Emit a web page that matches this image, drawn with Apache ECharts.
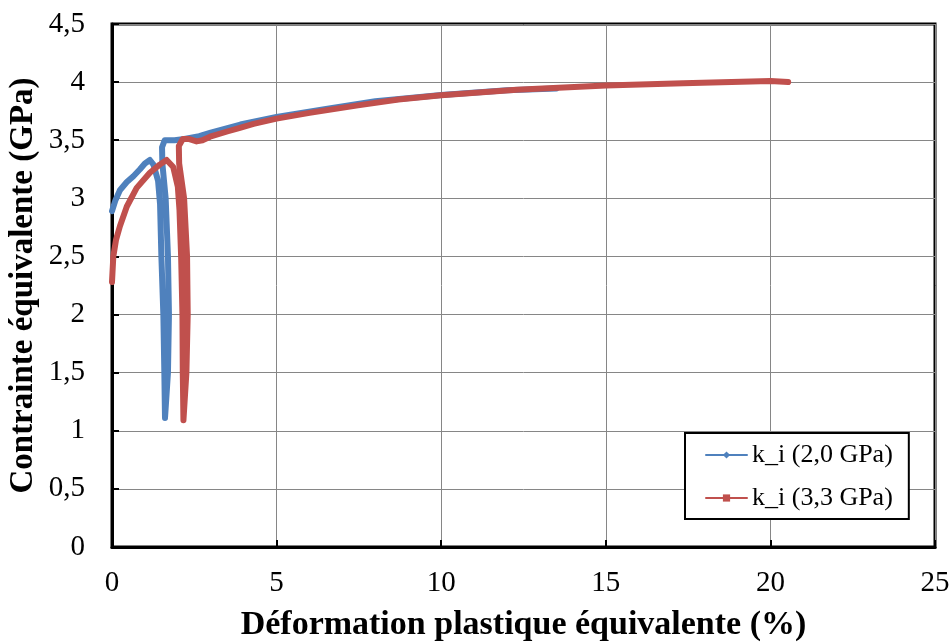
<!DOCTYPE html>
<html>
<head>
<meta charset="utf-8">
<script src="https://cdn.jsdelivr.net/npm/echarts@6/dist/echarts.min.js"></script>
<style>html,body{margin:0;padding:0;background:#fff;}#c{width:951px;height:644px;}</style>
</head>
<body>
<div id="c"></div>
<script>
const seriesNames = ['k_i (2,0 GPa)', 'k_i (3,3 GPa)'];
const xTitle = 'Déformation plastique équivalente (%)';
const yTitle = 'Contrainte équivalente (GPa)';
const xTicks = [0, 5, 10, 15, 20, 25];
const yTicks = [0, 0.5, 1, 1.5, 2, 2.5, 3, 3.5, 4, 4.5];

const blue = [
  [0, 2.89], [0.1, 2.98], [0.24, 3.07], [0.45, 3.14], [0.65, 3.19], [0.85, 3.25], [1.0, 3.30],
  [1.15, 3.33], [1.26, 3.29], [1.4, 3.15], [1.46, 2.95], [1.5, 2.5], [1.56, 2.0], [1.59, 1.5],
  [1.61, 1.11], [1.70, 1.5], [1.73, 2.0], [1.70, 2.5], [1.63, 3.0], [1.53, 3.3], [1.52, 3.44],
  [1.6, 3.5], [1.9, 3.5], [2.2, 3.51], [2.65, 3.535], [3.0, 3.565], [3.9, 3.635], [5, 3.70],
  [6.5, 3.77], [8, 3.835], [10, 3.89], [12, 3.93], [13.5, 3.946]
];
const red = [
  [0, 2.28], [0.04, 2.5], [0.12, 2.64], [0.24, 2.76], [0.45, 2.93], [0.75, 3.09], [1.15, 3.22],
  [1.45, 3.29], [1.66, 3.33], [1.86, 3.27], [2.0, 3.1], [2.05, 2.9], [2.1, 2.5], [2.14, 2.0],
  [2.15, 1.5], [2.17, 1.09], [2.26, 1.5], [2.30, 2.0], [2.28, 2.5], [2.19, 3.0], [2.04, 3.3],
  [2.03, 3.45], [2.15, 3.51], [2.35, 3.51], [2.57, 3.49], [2.75, 3.5], [2.98, 3.53], [3.5, 3.575],
  [3.86, 3.605], [4.3, 3.64], [5, 3.686], [6, 3.735], [7.47, 3.80], [8.7, 3.85], [10, 3.886],
  [12.29, 3.935], [15, 3.97], [17.35, 3.99], [20, 4.01], [20.54, 4.0]
];

const chart = echarts.init(document.getElementById('c'), null, {renderer: 'canvas'});
const font = 'Liberation Serif';
chart.setOption({
  animation: false,
  backgroundColor: '#fff',
  grid: {left: 112, right: 16, top: 24, bottom: 97, containLabel: false, outerBoundsMode: 'none',
    show: true, borderColor: '#000', borderWidth: 3, backgroundColor: 'transparent'},
  legend: {
    orient: 'vertical', left: 685, top: 433,
    backgroundColor: '#fff', borderColor: '#000', borderWidth: 2,
    padding: [9, 16, 8, 20],
    itemWidth: 41, itemHeight: 9, itemGap: 17,
    lineStyle: {width: 2},
    textStyle: {fontFamily: font, fontSize: 26, color: '#000'},
    data: seriesNames
  },
  xAxis: {
    type: 'value', min: xTicks[0], max: xTicks[xTicks.length - 1], interval: 5,
    name: xTitle, nameLocation: 'middle', nameGap: 61, nameMoveOverlap: false,
    nameTextStyle: {fontFamily: font, fontSize: 34, fontWeight: 'bold', color: '#000'},
    axisLine: {show: true, onZero: false, lineStyle: {color: '#000', width: 3}},
    axisTick: {show: true, inside: true, length: 7, lineStyle: {color: '#000', width: 2}},
    axisLabel: {fontFamily: font, fontSize: 29, color: '#000', margin: 22},
    splitLine: {show: true, lineStyle: {color: '#868686', width: 1}}
  },
  yAxis: {
    type: 'value', min: yTicks[0], max: yTicks[yTicks.length - 1], interval: 0.5,
    name: yTitle, nameLocation: 'middle', nameGap: 72, nameMoveOverlap: false,
    nameTextStyle: {fontFamily: font, fontSize: 33, fontWeight: 'bold', color: '#000'},
    axisLine: {show: true, onZero: false, lineStyle: {color: '#000', width: 3}},
    axisTick: {show: true, inside: true, length: 7, lineStyle: {color: '#000', width: 2}},
    axisLabel: {fontFamily: font, fontSize: 29, color: '#000', margin: 27,
      formatter: v => String(v).replace('.', ',')},
    splitLine: {show: true, lineStyle: {color: '#868686', width: 1}}
  },
  series: [
    {name: seriesNames[0], type: 'line', data: blue, symbol: 'diamond', showSymbol: false,
      color: '#4F81BD', lineStyle: {width: 6, cap: 'round', join: 'round'}, z: 2},
    {name: seriesNames[1], type: 'line', data: red, symbol: 'rect', showSymbol: false,
      color: '#C0504D', lineStyle: {width: 6, cap: 'round', join: 'round'}, z: 3}
  ]
});
</script>
</body>
</html>
